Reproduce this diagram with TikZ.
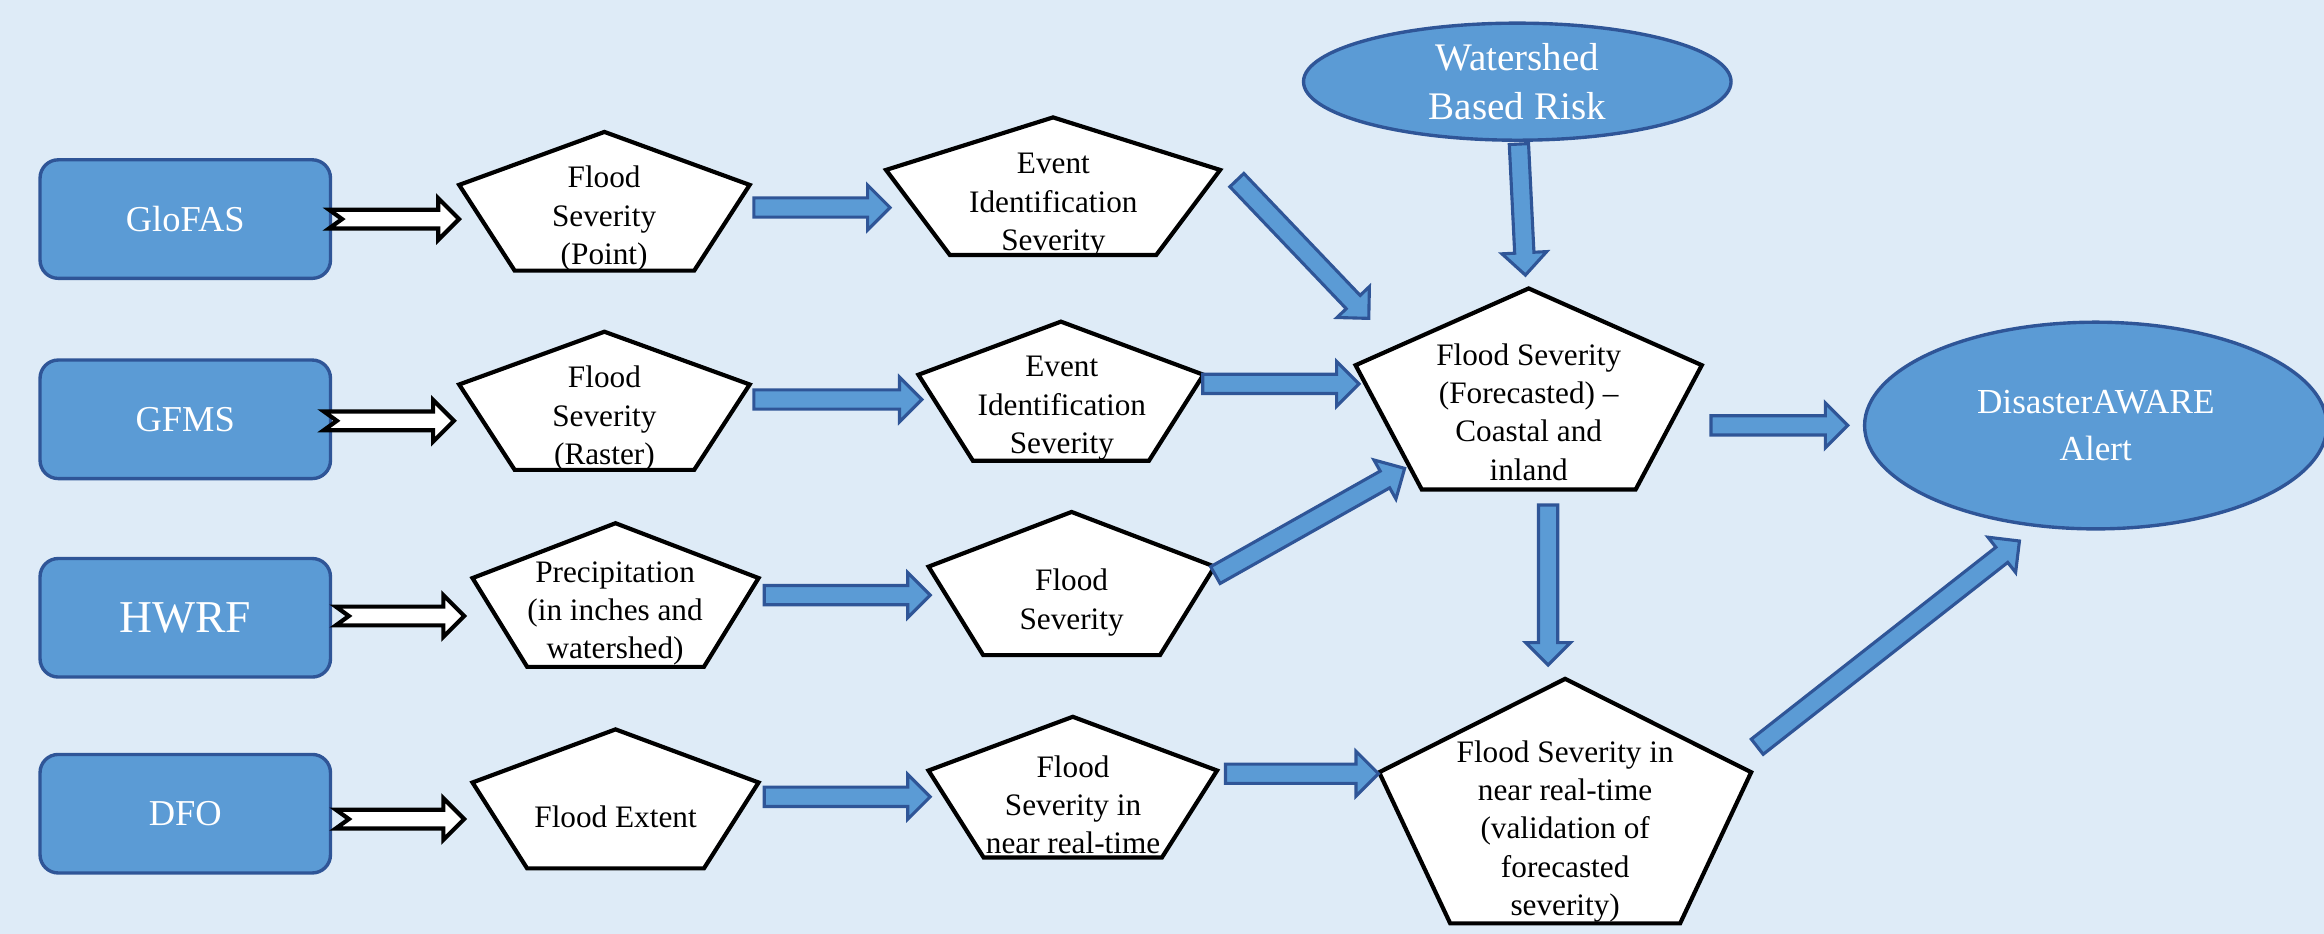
\documentclass[tikz,border=0pt]{standalone}
\usepackage{fontspec}
\setmainfont{Liberation Serif}
\usetikzlibrary{calc,shapes.geometric}
\definecolor{bg}{HTML}{DEEBF7}
\definecolor{fillb}{HTML}{5B9BD5}
\definecolor{edgeb}{HTML}{2F5597}
% pentagon: cx, top, width, bottom
\newcommand\pentagonpath[4]{%
  \path[pent] (#1,#2) -- ({#1+#3/2},{#2+0.382*(#4-#2)}) -- ({#1+0.309*#3},#4)
    -- ({#1-0.309*#3},#4) -- ({#1-#3/2},{#2+0.382*(#4-#2)}) -- cycle;}
% blue block arrow between two named coordinates
\newcommand\barrow[2]{%
  \path[bluearrow] let \p1=(#1), \p2=(#2), \n1={atan2(\y2-\y1,\x2-\x1)},
    \n2={veclen(\x2-\x1,\y2-\y1)-8.6pt} in
    ($(\p1)+({\n1+90}:3.7pt)$) -- ($(\p1)+(\n1:\n2)+({\n1+90}:3.7pt)$)
    -- ($(\p1)+(\n1:\n2)+({\n1+90}:8.6pt)$) -- (\p2)
    -- ($(\p1)+(\n1:\n2)+({\n1-90}:8.6pt)$) -- ($(\p1)+(\n1:\n2)+({\n1-90}:3.7pt)$)
    -- ($(\p1)+({\n1-90}:3.7pt)$) -- cycle;}
% hollow notched arrow
\newcommand\harrow[2]{%
  \path[hollowarrow] let \p1=(#1), \p2=(#2), \n1={atan2(\y2-\y1,\x2-\x1)},
    \n2={veclen(\x2-\x1,\y2-\y1)-8pt} in
    ($(\p1)+({\n1+90}:3.6pt)$) -- ($(\p1)+(\n1:\n2)+({\n1+90}:3.6pt)$)
    -- ($(\p1)+(\n1:\n2)+({\n1+90}:8pt)$) -- (\p2)
    -- ($(\p1)+(\n1:\n2)+({\n1-90}:8pt)$) -- ($(\p1)+(\n1:\n2)+({\n1-90}:3.6pt)$)
    -- ($(\p1)+({\n1-90}:3.6pt)$) -- ($(\p1)+(\n1:5pt)$) -- cycle;}
\begin{document}
\begin{tikzpicture}[x=0.02cm,y=-0.02cm,
  pent/.style={draw=black,fill=white,line width=1.6pt,line join=miter},
  ptext/.style={align=center,font=\fontsize{12}{14.7}\selectfont,inner sep=0pt},
  srcbox/.style={draw=edgeb,fill=fillb,line width=1.3pt,rounded corners=7pt,
    minimum width=3.92cm,minimum height=1.6cm,text=white,inner sep=0pt,
    font=\fontsize{14}{17}\selectfont},
  oval/.style={ellipse,draw=edgeb,fill=fillb,line width=1.3pt,text=white,
    align=center,inner sep=0pt},
  bluearrow/.style={draw=edgeb,fill=fillb,line width=1.2pt,line join=miter},
  hollowarrow/.style={draw=black,fill=white,line width=1.6pt,line join=miter}]
\useasboundingbox (0,0) rectangle (1568,630);
\fill[bg] (0,0) rectangle (1568,630);

% source boxes
\node[srcbox] (glofas) at (125,147.8) {GloFAS};
\node[srcbox] (gfms) at (125,282.9) {GFMS};
\node[srcbox,font=\fontsize{17.5}{20}\selectfont] (hwrf) at (125,416.8) {HWRF};
\node[srcbox] (dfo) at (125,549) {DFO};

% pentagons
\pentagonpath{407.8}{89}{196}{182.6}
\pentagonpath{407.8}{223.8}{196}{317}
\pentagonpath{710.5}{79.2}{225.4}{172}
\pentagonpath{715.8}{217}{192.3}{310.8}
\pentagonpath{415.3}{353}{193}{449.9}
\pentagonpath{723}{345.4}{193}{442}
\pentagonpath{415.3}{492.1}{193}{585.9}
\pentagonpath{723.8}{483.6}{194.7}{578.5}
\pentagonpath{1031.4}{194.6}{233.6}{330.2}
\pentagonpath{1056}{458}{251}{623}

\node[ptext] (p1) at (407.6,147.5) {Flood\\Severity\\(Point)};
\node[ptext] (p2) at (407.8,282.5) {Flood\\Severity\\(Raster)};
\node[ptext] (e1) at (710.7,138.5) {Event\\Identification\\Severity};
\node[ptext] (e2) at (716.4,275.5) {Event\\Identification\\Severity};
\node[ptext] (p3) at (415,414) {Precipitation\\(in inches and\\watershed)};
\node[ptext] (p4) at (723,406.5) {Flood\\Severity};
\node[ptext] (p5) at (415.3,551) {Flood Extent};
\node[ptext] (p6) at (724,543) {Flood\\Severity in\\near real-time};
\node[ptext] (c) at (1031.4,278) {Flood Severity\\(Forecasted) --\\Coastal and\\inland};
\node[ptext] (b) at (1056,561) {Flood Severity in\\near real-time\\(validation of\\forecasted\\severity)};

% ovals
\node[oval,minimum width=5.77cm,minimum height=1.58cm,
  font=\fontsize{15}{18.5}\selectfont] (ws) at (1023.7,55.1) {Watershed\\Based Risk};
\node[oval,minimum width=6.24cm,minimum height=2.79cm,
  font=\fontsize{13.5}{17.9}\selectfont] (da) at (1414,287.1) {DisasterAWARE\\Alert};

% connector end points
\coordinate (h1s) at (222,147.8);   \coordinate (h1e) at (309.7,147.8);
\coordinate (h2s) at (218.5,283.9); \coordinate (h2e) at (306.3,283.9);
\coordinate (h3s) at (226.6,415.6); \coordinate (h3e) at (313.2,415.6);
\coordinate (h4s) at (226.6,552.6); \coordinate (h4e) at (313.2,552.6);

\coordinate (a1s) at (508.6,140);   \coordinate (a1e) at (600.5,140);
\coordinate (a2s) at (508.6,269.5); \coordinate (a2e) at (622,269.5);
\coordinate (a3s) at (834.5,121.5); \coordinate (a3e) at (923.5,214.8);
\coordinate (a4s) at (811.5,259);   \coordinate (a4e) at (916.9,259);
\coordinate (a5s) at (515.6,401.5); \coordinate (a5e) at (627.6,401.5);
\coordinate (a6s) at (820,388);     \coordinate (a6e) at (947.7,316);
\coordinate (a7s) at (515.6,537.6); \coordinate (a7e) at (627.6,537.6);
\coordinate (a8s) at (826.8,522);   \coordinate (a8e) at (930,522);
\coordinate (a9s) at (1024.8,97.2); \coordinate (a9e) at (1029.2,185.6);
\coordinate (a10s) at (1154.4,287); \coordinate (a10e) at (1246.7,287);
\coordinate (a11s) at (1044.5,340.7); \coordinate (a11e) at (1044.5,448.7);
\coordinate (a12s) at (1185.6,503.8); \coordinate (a12e) at (1362.5,365);

\harrow{h1s}{h1e}
\harrow{h2s}{h2e}
\harrow{h3s}{h3e}
\harrow{h4s}{h4e}

\barrow{a1s}{a1e}
\barrow{a2s}{a2e}
\barrow{a3s}{a3e}
\barrow{a4s}{a4e}
\barrow{a5s}{a5e}
\barrow{a6s}{a6e}
\barrow{a7s}{a7e}
\barrow{a8s}{a8e}
\barrow{a9s}{a9e}
\barrow{a10s}{a10e}
\barrow{a11s}{a11e}
\barrow{a12s}{a12e}
\end{tikzpicture}
\end{document}
